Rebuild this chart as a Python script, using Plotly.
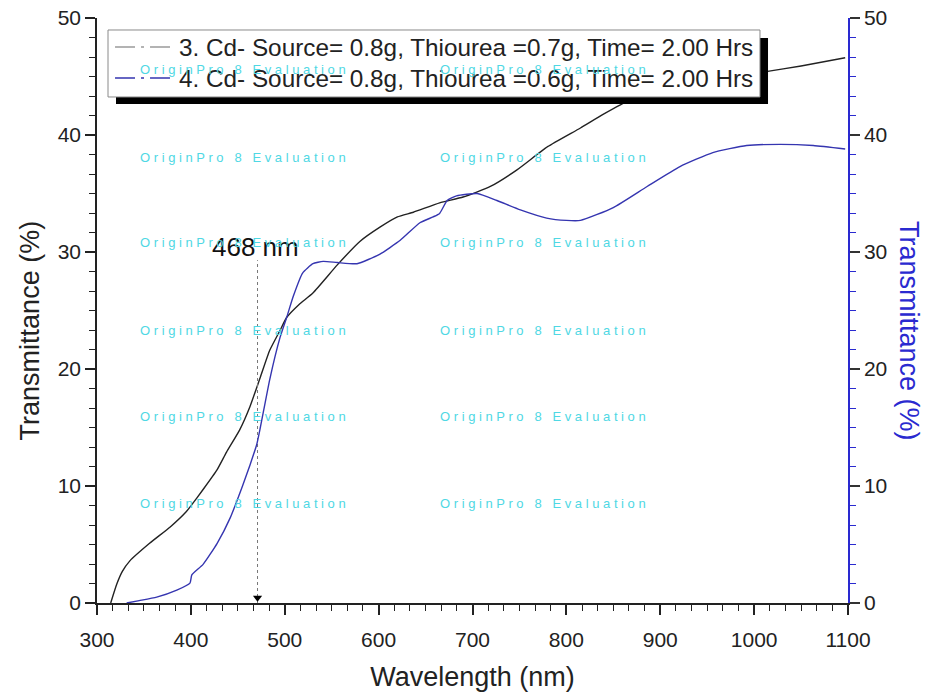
import plotly.graph_objects as go

# ---- data ----
wl_3 = [314.6, 321, 327, 335, 356, 378, 395, 400, 413, 428, 438, 452, 463, 474, 484, 495, 502,
        515, 530, 556, 580, 601, 620, 637, 665, 690, 719, 747, 780, 815, 840, 868, 900,
        950, 1000, 1011, 1050, 1097]
t_3 = [0, 1.6, 2.7, 3.6, 5.1, 6.5, 7.8, 8.3, 9.7, 11.4, 12.9, 14.8, 16.8, 19.3, 21.6, 23.3, 24.4,
       25.5, 26.5, 28.9, 30.9, 32.1, 33.0, 33.4, 34.2, 34.7, 35.6, 37.0, 39.0, 40.6, 41.8, 43.0, 43.9,
       44.8, 45.3, 45.4, 45.9, 46.6]

wl_4 = [331.6, 345, 363.6, 385, 399, 401, 413, 428, 442, 455, 463, 470, 474, 484, 495, 502,
        509, 519, 530, 541, 556, 577, 601, 623, 644, 658, 665, 673, 683, 705, 726, 751,
        779, 800, 815, 850, 886, 921, 956, 992, 1028, 1063, 1097]
t_4 = [0, 0.2, 0.5, 1.1, 1.7, 2.4, 3.3, 5.1, 7.3, 10.0, 11.8, 13.5, 15.0, 19.1, 22.7, 24.4,
       26.2, 28.2, 29.0, 29.2, 29.1, 29.0, 29.8, 31.0, 32.5, 33.0, 33.3, 34.4, 34.8, 35.0, 34.4, 33.6,
       32.9, 32.7, 32.7, 33.8, 35.6, 37.3, 38.5, 39.1, 39.2, 39.1, 38.8]

name_3 = "3. Cd- Source= 0.8g, Thiourea =0.7g, Time= 2.00 Hrs"
name_4 = "4. Cd- Source= 0.8g, Thiourea =0.6g, Time= 2.00 Hrs"

edge_wl = 471          # marked absorption edge position
edge_label = "468 nm"
edge_top = 29.3

x_ticks = [300, 400, 500, 600, 700, 800, 900, 1000, 1100]
y_ticks = [0, 10, 20, 30, 40, 50]

wm_x = [456, 775]
wm_y = [45.6, 38.1, 30.8, 23.3, 15.9, 8.5]

BLUE = "#3535b0"
AXBLUE = "#2a2ad0"
FONT = "Liberation Sans, Arial, sans-serif"

fig = go.Figure()

fig.add_trace(go.Scatter(x=wl_3, y=t_3, mode="lines", name=name_3,
                         line=dict(color="#222222", width=1.4, shape="spline", smoothing=0.5),
                         showlegend=False, xaxis="x", yaxis="y"))
fig.add_trace(go.Scatter(x=wl_4, y=t_4, mode="lines", name=name_4,
                         line=dict(color=BLUE, width=1.4, shape="spline", smoothing=0.5),
                         showlegend=False, xaxis="x", yaxis="y2"))

# marker line at the edge
fig.add_trace(go.Scatter(x=[edge_wl, edge_wl], y=[0, edge_top], mode="lines",
                         line=dict(color="#777777", width=1, dash="dot"), showlegend=False, hoverinfo="skip"))
fig.add_trace(go.Scatter(x=[edge_wl], y=[0.45], mode="markers",
                         marker=dict(symbol="triangle-down", size=8, color="black"), showlegend=False, hoverinfo="skip"))

tickfont = dict(family=FONT, size=21, color="#222222")
titlefont = dict(family=FONT, size=27, color="#222222")

fig.update_layout(
    width=926, height=697,
    margin=dict(l=97, r=78, t=18, b=94, autoexpand=False),
    paper_bgcolor="white", plot_bgcolor="white",
    font=dict(family=FONT, color="#222222"),
    showlegend=False,
    xaxis=dict(range=[300, 1100], tickvals=x_ticks, ticks="outside", ticklen=10, tickwidth=1.5,
               tickcolor="#222222", showline=True, linecolor="#222222", linewidth=1.5,
               showgrid=False, zeroline=False, tickfont=tickfont, automargin=False, ticklabelstandoff=7,
               ticklabeloverflow="allow",
               minor=dict(dtick=100 / 6, tick0=300, ticks="outside", ticklen=6, tickwidth=1.2, tickcolor="#222222"),
               title=dict(text="Wavelength (nm)", font=titlefont, standoff=17)),
    xaxis2=dict(range=[300, 1100], overlaying="x", side="top", anchor="y", tickvals=x_ticks,
                ticks="inside", ticklen=8, tickwidth=1.2, tickcolor="#222222", showticklabels=False,
                showline=True, linecolor="#222222", linewidth=1.5, showgrid=False, zeroline=False,
                automargin=False,
                minor=dict(dtick=100 / 6, tick0=300, ticks="inside", ticklen=5, tickwidth=1.2, tickcolor="#222222")),
    yaxis=dict(range=[0, 50], tickvals=y_ticks, ticks="outside", ticklen=10, tickwidth=1.5,
               tickcolor="#222222", showline=True, linecolor="#222222", linewidth=1.5,
               showgrid=False, zeroline=False, tickfont=tickfont, automargin=False,
               ticklabeloverflow="allow",
               minor=dict(dtick=10 / 6, tick0=0, ticks="outside", ticklen=6, tickwidth=1.2, tickcolor="#222222")),
    yaxis2=dict(range=[0, 50], overlaying="y", side="right", anchor="x", tickvals=y_ticks,
                ticks="outside", ticklen=10, tickwidth=1.5, tickcolor="#333333",
                showline=True, linecolor=AXBLUE, linewidth=1.5, showgrid=False, zeroline=False,
                tickfont=tickfont, automargin=False, ticklabeloverflow="allow",
                minor=dict(dtick=10 / 6, tick0=0, ticks="outside", ticklen=6, tickwidth=1.2, tickcolor=AXBLUE)),
)

# y-axis titles
fig.add_annotation(text="Transmittance (%)", xref="paper", yref="paper", x=-0.0892, y=0.466,
                   xanchor="center", yanchor="middle", textangle=-90, showarrow=False, font=titlefont)
fig.add_annotation(text="Transmittance (%)", xref="paper", yref="paper", x=1.0812, y=0.465,
                   xanchor="center", yanchor="middle", textangle=90, showarrow=False,
                   font=dict(family=FONT, size=27, color=AXBLUE))

# edge label
fig.add_annotation(text=edge_label, x=edge_wl - 2, y=edge_top + 1.1, xref="x", yref="y", showarrow=False,
                   font=dict(family=FONT, size=26, color="#111111"))

# ---- legend box (Origin style with drop shadow) ----
fig.add_shape(type="rect", xref="paper", yref="paper", x0=0.0253, x1=0.8935, y0=0.853, y1=0.9658,
              fillcolor="black", line=dict(width=0), layer="above")
fig.add_shape(type="rect", xref="paper", yref="paper", x0=0.01465, x1=0.8828, y0=0.8650, y1=0.9795,
              fillcolor="white", line=dict(color="#8a8a8a", width=1), layer="above")
legend_rows = [(name_3, "#9a9a9a", 0.9504), (name_4, BLUE, 0.8974)]
for txt, col, yy in legend_rows:
    fig.add_shape(type="line", xref="paper", yref="paper", x0=0.024, x1=0.0972, y0=yy, y1=yy,
                  line=dict(color=col, width=1.4, dash="20px,6px,3px,6px"), layer="above")
    fig.add_annotation(text=txt, xref="paper", yref="paper", x=0.1065, y=yy, xanchor="left", yanchor="middle",
                       showarrow=False, font=dict(family=FONT, size=24.3, color="#222222"))

# evaluation watermarks
wm = "O r i g i n P r o   8   E v a l u a t i o n"
for yy in wm_y:
    for xx in wm_x:
        fig.add_annotation(text=wm, x=xx, y=yy, xref="x", yref="y", showarrow=False,
                           font=dict(family=FONT, size=13, color="#4fd8e4"))

fig.write_html("out.html", config={"displayModeBar": False},
               post_script="document.body.style.margin='0';document.body.style.overflow='hidden';")
